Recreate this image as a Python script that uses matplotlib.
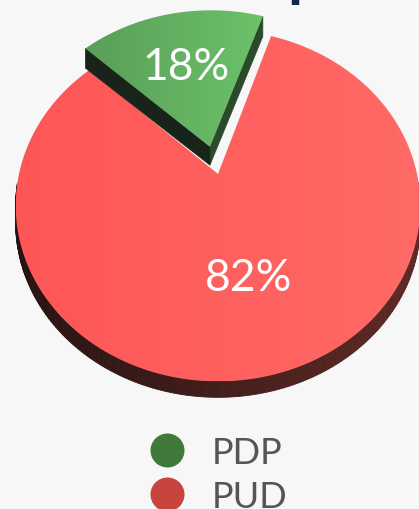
import numpy as np
import matplotlib
matplotlib.use("Agg")
import matplotlib.pyplot as plt
from matplotlib.patches import Polygon
from matplotlib.colors import to_rgb

# ---- data ----
categories = ["PDP", "PUD"]
values = [18, 82]
pct_labels = ["18%", "82%"]
explode = [0.17, 0.0]

# ---- styling ----
top_left_colors = ["#5a9e58", "#fd5656"]
top_right_colors = ["#6cc26a", "#ff6a66"]
legend_colors = ["#3f7a3a", "#c8443e"]
BG = "#f7f7f7"

# projection parameters (pixel space)
CX, CY, S, T, K = 218.0, 175.0, 199.0, 170.0, 0.18
START = 71.8  # degrees, counter-clockwise


def proj(u, v, z=0.0):
    w = 1 + K * v
    x = CX + S * u / w
    y = CY - T * v / w + z * (18.0 + 2.0 * v)
    return x, y


fig = plt.figure(figsize=(4.19, 5.10), dpi=100)
fig.patch.set_facecolor(BG)
ax = fig.add_axes([0, 0, 1, 1])
ax.set_xlim(0, 419)
ax.set_ylim(510, 0)
ax.axis("off")
ax.set_facecolor(BG)

total = float(sum(values))
angles = []
a = START
for val in values:
    span = 360.0 * val / total
    angles.append((a, a + span))
    a += span


def wedge_geom(i, n=240):
    a0, a1 = np.radians(angles[i])
    mid = 0.5 * (a0 + a1)
    ex, ey = explode[i] * np.cos(mid), explode[i] * np.sin(mid)
    th = np.linspace(a0, a1, n)
    u = ex + np.cos(th)
    v = ey + np.sin(th)
    return ex, ey, th, u, v


def gradient_fill(poly_xy, c_left, c_right, zorder):
    xs = poly_xy[:, 0]
    ys = poly_xy[:, 1]
    x0, x1 = xs.min(), xs.max()
    y0, y1 = ys.min(), ys.max()
    n = 256
    cl, cr = np.array(to_rgb(c_left)), np.array(to_rgb(c_right))
    tt = np.linspace(0, 1, n)[None, :, None]
    img = cl[None, None, :] * (1 - tt) + cr[None, None, :] * tt
    img = np.repeat(img, 4, axis=0)
    im = ax.imshow(img, extent=[x0, x1, y1, y0], aspect="auto", zorder=zorder,
                   interpolation="bilinear")
    clip = Polygon(poly_xy, closed=True, facecolor="none", edgecolor="none",
                   transform=ax.transData)
    ax.add_patch(clip)
    im.set_clip_path(clip)


# ---- red (PUD) slice: outer wall then top ----
i = 1
ex, ey, th, u, v = wedge_geom(i, 400)
xt, yt = proj(u, v, 0)
xb, yb = proj(u, v, 1)
wall_left = np.array(to_rgb("#261212"))
wall_right = np.array(to_rgb("#5e2a25"))
sin_mid = np.sin(0.5 * (th[:-1] + th[1:]))
order = np.argsort(-sin_mid)  # back to front
for j in order:
    if sin_mid[j] > -0.05:
        continue
    xm = 0.5 * (xt[j] + xt[j + 1])
    f = np.clip((xm - 14) / 405, 0, 1)
    col = wall_left * (1 - f) + wall_right * f
    quad = [(xt[j], yt[j]), (xt[j + 1], yt[j + 1]), (xb[j + 1], yb[j + 1]), (xb[j], yb[j])]
    ax.add_patch(Polygon(quad, closed=True, facecolor=col, edgecolor=col, lw=0.6, zorder=2))
cx0, cy0 = proj(ex, ey, 0)
top = np.vstack([[cx0, cy0], np.column_stack([xt, yt])])
gradient_fill(top, top_left_colors[i], top_right_colors[i], zorder=3)

# ---- green (PDP) slice: radial walls then top ----
i = 0
ex, ey, th, u, v = wedge_geom(i, 200)
xt, yt = proj(u, v, 0)
cxt, cyt = proj(ex, ey, 0)
cxb, cyb = proj(ex, ey, 1)
# right radial wall (start angle)
xr_t, yr_t = xt[0], yt[0]
xr_b, yr_b = proj(u[0], v[0], 1)
ax.add_patch(Polygon([(cxt, cyt), (xr_t, yr_t), (xr_b, yr_b), (cxb, cyb)], closed=True,
                     facecolor="#2a4a2b", edgecolor="#2a4a2b", lw=0.5, zorder=4))
# left radial wall (end angle)
xl_t, yl_t = xt[-1], yt[-1]
xl_b, yl_b = proj(u[-1], v[-1], 1)
ax.add_patch(Polygon([(cxt, cyt), (xl_t, yl_t), (xl_b, yl_b), (cxb, cyb)], closed=True,
                     facecolor="#18241a", edgecolor="#18241a", lw=0.5, zorder=4))
topg = np.vstack([[cxt, cyt], np.column_stack([xt, yt])])
gradient_fill(topg, top_left_colors[i], top_right_colors[i], zorder=5)

# ---- percentage labels ----
for i, lab in enumerate(pct_labels):
    a0, a1 = np.radians(angles[i])
    mid = 0.5 * (a0 + a1)
    r = 0.565
    uu = explode[i] * np.cos(mid) + r * np.cos(mid)
    vv = explode[i] * np.sin(mid) + r * np.sin(mid)
    lx, ly = proj(uu, vv, 0)
    ax.text(lx, ly, lab, color="white", fontsize=32, family="Lato",
            ha="center", va="center", zorder=10)

# ---- legend ----
leg_y = [451, 495]
for i, cat in enumerate(categories):
    ax.scatter([167], [leg_y[i]], s=600, color=legend_colors[i], zorder=10, linewidths=0)
    ax.text(212, leg_y[i], cat, color="#555555", fontsize=26, family="Lato",
            ha="left", va="center_baseline", zorder=10)

# cut-off title fragment at top
fig.text(287 / 419, 1.0 + 5 / 510, "p", color="#16264f", fontsize=44, family="Lato",
         fontweight="bold", ha="left", va="baseline")

fig.savefig("out.png", dpi=100, facecolor=BG)
